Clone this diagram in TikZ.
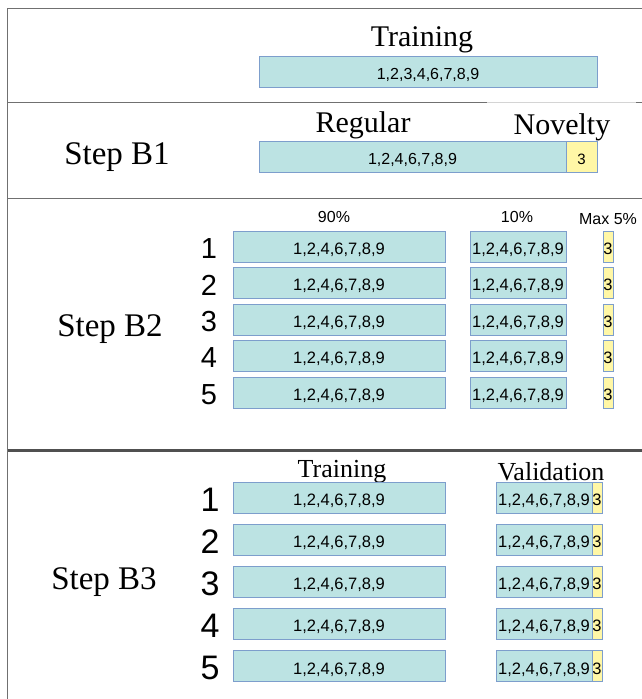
\documentclass[tikz,border=0pt]{standalone}
\usepackage{fontspec}
\setmainfont{Liberation Serif}
\setsansfont{Liberation Sans}
\definecolor{cyanfill}{HTML}{BCE3E3}
\definecolor{boxline}{HTML}{7D9ECC}
\definecolor{yelfill}{HTML}{FFF7A6}
\definecolor{framegray}{HTML}{707070}
\definecolor{framedark}{HTML}{505050}
\definecolor{framelight}{HTML}{D4D4D4}
\tikzset{
  setbox/.style={draw=boxline, line width=1pt, inner sep=0pt, anchor=center,
                 text height=15.5pt, text depth=0pt,
                 font=\sffamily\fontsize{16.5}{16.5}\selectfont},
  cyanbox/.style={setbox, fill=cyanfill, minimum height=31pt},
  yelbox/.style={setbox, fill=yelfill, minimum height=31pt},
  head/.style={inner sep=0pt, font=\fontsize{30}{30}\selectfont},
  subhead/.style={inner sep=0pt, font=\fontsize{26}{26}\selectfont},
  steplabel/.style={inner sep=0pt, font=\fontsize{33}{33}\selectfont},
  pct/.style={inner sep=0pt, font=\sffamily\fontsize{16}{16}\selectfont},
  rownum/.style={inner sep=0pt, font=\sffamily\fontsize{29}{29}\selectfont},
  rownumB/.style={inner sep=0pt, font=\sffamily\fontsize{34}{34}\selectfont},
  frame/.style={draw=framegray, line width=1.6pt},
}
\begin{document}
\begin{tikzpicture}[x=1pt, y=-1pt]
\useasboundingbox (0,0) rectangle (642,699);

% frame and section rules
\draw[frame] (7.5,699) -- (7.5,8.5) -- (642,8.5);
\draw[frame] (7.5,102.5) -- (487,102.5);
\draw[draw=framelight, line width=1pt] (487,102.5) -- (636,102.5);
\draw[frame] (636,102.5) -- (642,102.5);
\draw[frame] (7.5,198.5) -- (642,198.5);
\draw[draw=framedark, line width=2.2pt] (7.5,450.5) -- (642,450.5);

% full training set
\node[head] (trainlbl) at (422,40) {Training};
\node[cyanbox, minimum width=338pt, font=\sffamily\fontsize{16}{16}\selectfont] (trainall) at (428,71.5) {1,2,3,4,6,7,8,9};

% step B1: regular classes and the novelty class
\node[steplabel] (stepB1) at (117,157) {Step B1};
\node[head] (reglbl) at (363,125) {Regular};
\node[head] (novlbl) at (562,127) {Novelty};
\node[cyanbox, minimum width=307pt, font=\sffamily\fontsize{16}{16}\selectfont] (regular) at (412.5,156.5) {1,2,4,6,7,8,9};
\node[yelbox, minimum width=31pt, font=\sffamily\fontsize{15}{15}\selectfont] (novelty) at (581.5,156.5) {3};

% step B2: five random splits
\node[steplabel] (stepB2) at (110,329) {Step B2};
\node[pct] (p90) at (334,217) {90\%};
\node[pct] (p10) at (517,217) {10\%};
\node[pct] (p5) at (608,219) {Max 5\%};
\foreach \i in {1,...,5} {
  \pgfmathsetmacro{\yy}{246.5+36.5*(\i-1)}
  \node[rownum] (bnum\i) at (209,\yy+2) {\i};
  \node[cyanbox, minimum width=212pt] (btrain\i) at (339,\yy) {1,2,4,6,7,8,9};
  \node[cyanbox, minimum width=96pt] (bval\i) at (518,\yy) {1,2,4,6,7,8,9};
  \node[yelbox, minimum width=10pt] (bnov\i) at (608,\yy) {3};
}

% step B3: training and validation sets per split
\node[steplabel] (stepB3) at (104,582) {Step B3};
\node[subhead] (ctrainlbl) at (342,472) {Training};
\node[subhead] (cvallbl) at (551,472) {Validation};
\foreach \i in {1,...,5} {
  \pgfmathsetmacro{\yy}{497.5+42.2*(\i-1)}
  \node[rownumB] (cnum\i) at (210,\yy+2) {\i};
  \node[cyanbox, minimum width=212pt] (ctrain\i) at (339,\yy) {1,2,4,6,7,8,9};
  \node[cyanbox, minimum width=96pt] (cval\i) at (544,\yy) {1,2,4,6,7,8,9};
  \node[yelbox, minimum width=10pt] (cnov\i) at (597,\yy) {3};
}
\end{tikzpicture}
\end{document}
